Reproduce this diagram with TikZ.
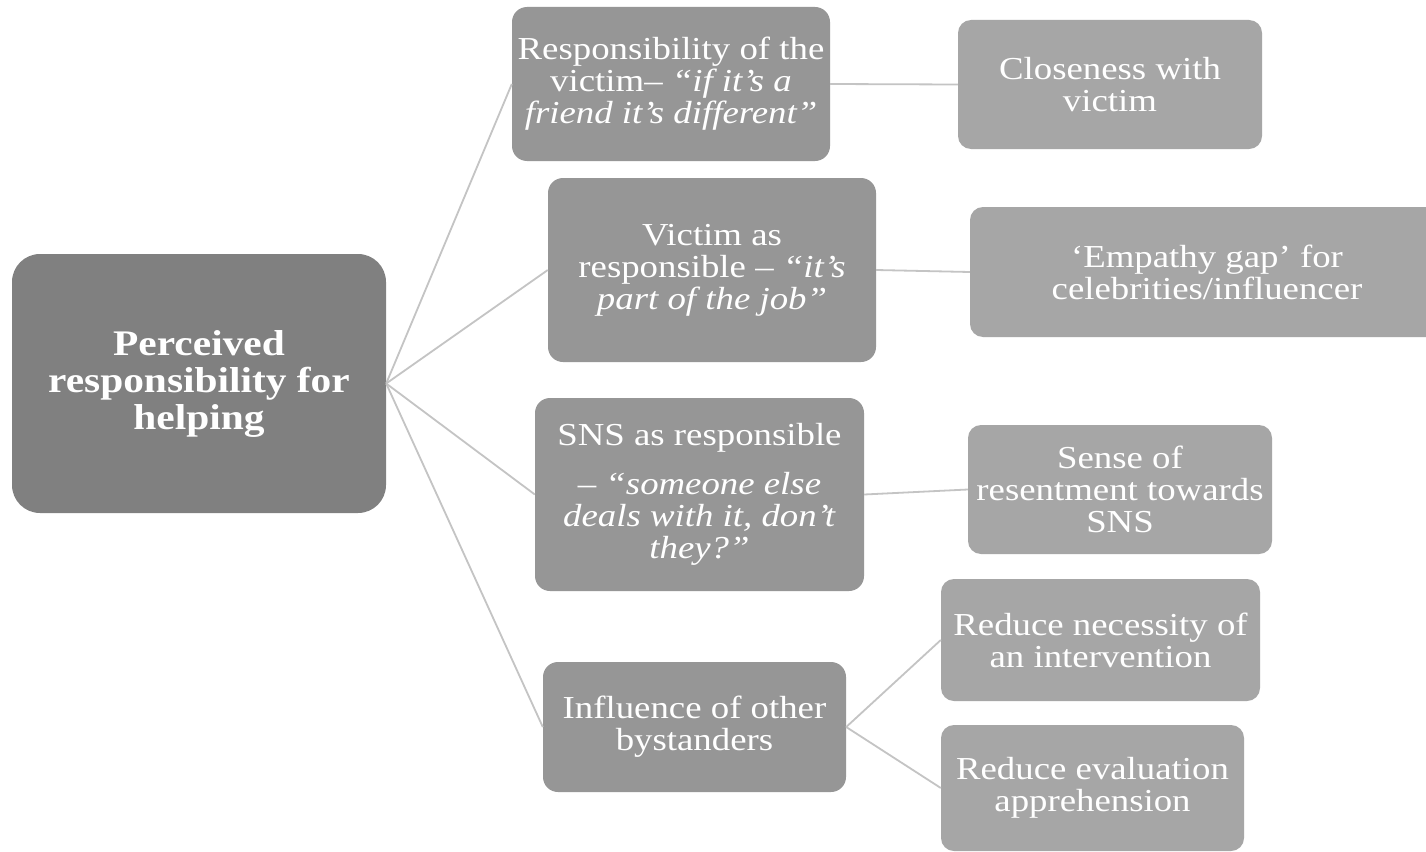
\documentclass[tikz,border=0pt]{standalone}
\usepackage{fontspec}
\setmainfont[FakeStretch=1.15]{Liberation Serif}
\definecolor{rootc}{HTML}{808080}
\definecolor{midc}{HTML}{969696}
\definecolor{leafc}{HTML}{A6A6A6}
\definecolor{linec}{HTML}{C4C4C4}
\tikzset{
  rootbox/.style={fill=rootc, draw=none, rounded corners=28pt, inner sep=0pt, align=center, text=white,
    font=\fontsize{36}{37}\selectfont\bfseries},
  midbox/.style={fill=midc, draw=none, rounded corners=15pt, inner sep=0pt, align=center, text=white,
    font=\fontsize{32}{32}\selectfont},
  leafbox/.style={fill=leafc, draw=none, rounded corners=13pt, inner sep=0pt, align=center, text=white,
    font=\fontsize{32}{32}\selectfont},
  conn/.style={draw=linec, line width=1.8pt}
}
\begin{document}
\begin{tikzpicture}[x=1pt,y=-1pt]
\clip (0,0) rectangle (1426,851);
\fill[white] (0,0) rectangle (1426,851);
% root
\node[rootbox, minimum width=374pt, minimum height=259pt] (root) at (199,383.5)
  {Perceived\\responsibility for\\helping};
% middle level
\node[midbox, minimum width=318pt, minimum height=154pt] (b1) at (671,84)
  {Responsibility of the\\victim– \textit{“if it’s a}\\\textit{friend it’s different”}};
\node[midbox, minimum width=328pt, minimum height=184pt] (b2) at (712,270)
  {Victim as\\responsible – \textit{“it’s}\\\textit{part of the job”}};
\node[midbox, minimum width=329pt, minimum height=193pt] (b3) at (699.5,494.5)
  {SNS as responsible\\[17pt]– \textit{“someone else}\\\textit{deals with it, don’t}\\\textit{they?”}};
\node[midbox, minimum width=303pt, minimum height=130pt] (b4) at (694.5,727)
  {Influence of other\\bystanders};
% leaves
\node[leafbox, minimum width=304pt, minimum height=129pt] (l1) at (1110,84.5)
  {Closeness with\\victim};
\node[leafbox, minimum width=474pt, minimum height=130pt] (l2) at (1207,272)
  {‘Empathy gap’ for\\celebrities/influencer};
\node[leafbox, minimum width=304pt, minimum height=129pt] (l3) at (1120,489.5)
  {Sense of\\resentment towards\\SNS};
\node[leafbox, minimum width=319pt, minimum height=122pt] (l4) at (1100.5,640)
  {Reduce necessity of\\an intervention};
\node[leafbox, minimum width=303pt, minimum height=126pt] (l5) at (1092.5,788)
  {Reduce evaluation\\apprehension};
% connectors
\draw[conn] (root.east) -- (b1.west);
\draw[conn] (root.east) -- (b2.west);
\draw[conn] (root.east) -- (b3.west);
\draw[conn] (root.east) -- (b4.west);
\draw[conn] (b1.east) -- (l1.west);
\draw[conn] (b2.east) -- (l2.west);
\draw[conn] (b3.east) -- (l3.west);
\draw[conn] (b4.east) -- (l4.west);
\draw[conn] (b4.east) -- (l5.west);
\end{tikzpicture}
\end{document}
